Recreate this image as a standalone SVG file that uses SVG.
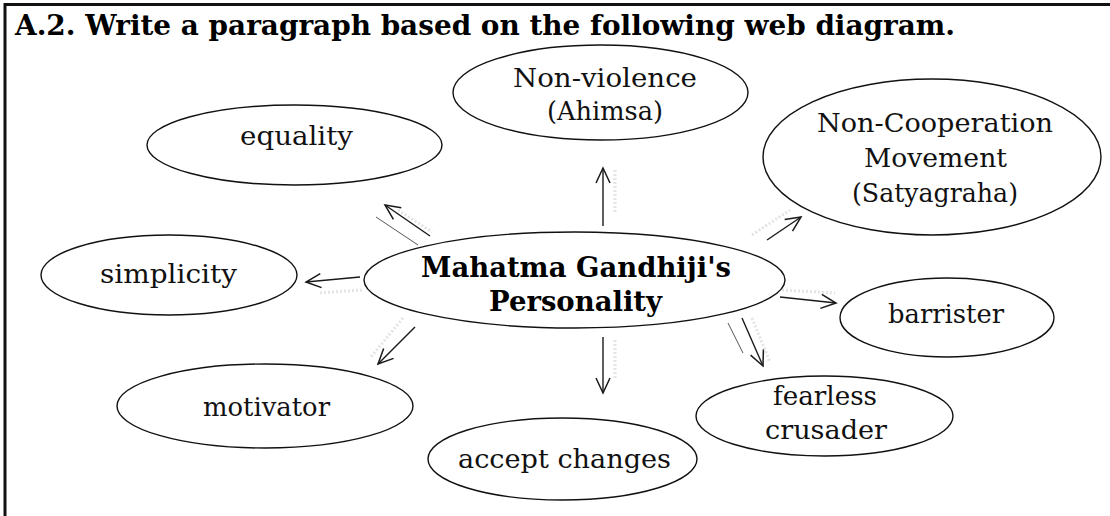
<svg xmlns="http://www.w3.org/2000/svg" width="1110" height="516" viewBox="0 0 1110 516">
<style>
.bg{fill:#fff}
.frame{stroke:#111;stroke-width:3;fill:none}
.node ellipse{fill:#fff;stroke:#111;stroke-width:1.4}
.lbl{font-family:"DejaVu Serif","Liberation Serif",serif;font-size:26px;fill:#111;text-anchor:middle}
.bold{font-family:"DejaVu Serif","Liberation Serif",serif;font-weight:bold;fill:#000}
.title{font-size:28px}
.center{font-size:28px;text-anchor:middle}
.conn{stroke:#1a1a1a;stroke-width:1.4;fill:none}
.sec{stroke:#555;stroke-width:1;fill:none}
.shadow{stroke:#e4e4e4;stroke-width:3;fill:none;stroke-dasharray:2 2}
</style>
<defs>
<marker id="ah" viewBox="-17 -9 19 18" refX="0" refY="0" markerWidth="19" markerHeight="18" markerUnits="userSpaceOnUse" orient="auto">
<path d="M-15,-7 L0,0 L-15,7" fill="none" stroke="#1a1a1a" stroke-width="1.5"/>
</marker>
</defs>
<rect class="bg" x="0" y="0" width="1110" height="516"/>
<g id="frame">
<line class="frame" x1="5" y1="4.5" x2="1110" y2="4.5"/>
<line class="frame" x1="5" y1="3" x2="5" y2="516"/>
</g>
<text id="title" class="bold title" x="15" y="35" textLength="940" lengthAdjust="spacingAndGlyphs">A.2.  Write a paragraph based on the following web diagram.</text>
<g id="connectors">
<line class="shadow" x1="615" y1="170" x2="615" y2="212"/>
<line class="shadow" x1="615" y1="340" x2="615" y2="380"/>
<line class="shadow" x1="398" y1="210" x2="432" y2="232"/>
<line class="shadow" x1="362" y1="290" x2="318" y2="293"/>
<line class="shadow" x1="403" y1="318" x2="370" y2="358"/>
<line class="shadow" x1="752" y1="235" x2="790" y2="210"/>
<line class="shadow" x1="782" y1="290" x2="835" y2="293"/>
<line class="shadow" x1="752" y1="318" x2="770" y2="362"/>
<line class="conn" x1="603" y1="226" x2="603" y2="168" marker-end="url(#ah)"/>
<line class="conn" x1="603" y1="337" x2="603" y2="393" marker-end="url(#ah)"/>
<line class="conn" x1="430" y1="236" x2="385" y2="205" marker-end="url(#ah)"/>
<line class="sec" x1="376" y1="217" x2="418" y2="245"/>
<line class="conn" x1="360" y1="277" x2="306" y2="282" marker-end="url(#ah)"/>
<line class="conn" x1="415" y1="327" x2="378" y2="364" marker-end="url(#ah)"/>
<line class="conn" x1="767" y1="240" x2="801" y2="217" marker-end="url(#ah)"/>
<line class="conn" x1="780" y1="297" x2="836" y2="303" marker-end="url(#ah)"/>
<line class="conn" x1="742" y1="318" x2="763" y2="366" marker-end="url(#ah)"/>
<line class="sec" x1="728" y1="323" x2="743" y2="353"/>
</g>
<g id="n-center" class="node">
<ellipse cx="574.5" cy="280" rx="210.5" ry="48"/>
<text class="bold center" x="576" y="277" textLength="310" lengthAdjust="spacingAndGlyphs">Mahatma  Gandhiji's</text>
<text class="bold center" x="575.5" y="311" textLength="173" lengthAdjust="spacingAndGlyphs">Personality</text>
</g>
<g id="n-nonviolence" class="node">
<ellipse cx="600.5" cy="92.5" rx="147.5" ry="47.5"/>
<text class="lbl" x="605" y="87" textLength="184" lengthAdjust="spacingAndGlyphs">Non-violence</text>
<text class="lbl" x="605" y="120" textLength="116" lengthAdjust="spacingAndGlyphs">(Ahimsa)</text>
</g>
<g id="n-equality" class="node">
<ellipse cx="294.5" cy="145" rx="147.5" ry="40"/>
<text class="lbl" x="296.5" y="145" textLength="113" lengthAdjust="spacingAndGlyphs">equality</text>
</g>
<g id="n-noncoop" class="node">
<ellipse cx="932" cy="157" rx="169" ry="78"/>
<text class="lbl" x="935" y="132" textLength="236" lengthAdjust="spacingAndGlyphs">Non-Cooperation</text>
<text class="lbl" x="935.5" y="167" textLength="143" lengthAdjust="spacingAndGlyphs">Movement</text>
<text class="lbl" x="935" y="202" textLength="166" lengthAdjust="spacingAndGlyphs">(Satyagraha)</text>
</g>
<g id="n-simplicity" class="node">
<ellipse cx="169" cy="275" rx="128" ry="40"/>
<text class="lbl" x="168.5" y="283" textLength="137" lengthAdjust="spacingAndGlyphs">simplicity</text>
</g>
<g id="n-barrister" class="node">
<ellipse cx="947" cy="317.5" rx="107" ry="39.5"/>
<text class="lbl" x="946" y="323" textLength="116" lengthAdjust="spacingAndGlyphs">barrister</text>
</g>
<g id="n-fearless" class="node">
<ellipse cx="824.5" cy="416" rx="128.5" ry="40"/>
<text class="lbl" x="825" y="405" textLength="104" lengthAdjust="spacingAndGlyphs">fearless</text>
<text class="lbl" x="826" y="439" textLength="122" lengthAdjust="spacingAndGlyphs">crusader</text>
</g>
<g id="n-motivator" class="node">
<ellipse cx="265" cy="406" rx="148" ry="42"/>
<text class="lbl" x="266.5" y="416" textLength="127" lengthAdjust="spacingAndGlyphs">motivator</text>
</g>
<g id="n-accept" class="node">
<ellipse cx="562.5" cy="459" rx="134.5" ry="41"/>
<text class="lbl" x="564.5" y="468" textLength="213" lengthAdjust="spacingAndGlyphs">accept  changes</text>
</g>
</svg>
